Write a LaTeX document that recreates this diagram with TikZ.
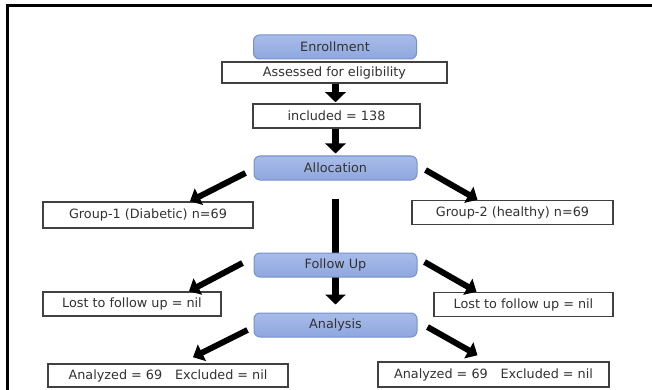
\documentclass[tikz,border=0pt]{standalone}
\usepackage{fontspec}
\setmainfont{DejaVu Sans}
\usepackage{tikz}
\usetikzlibrary{arrows.meta, positioning, backgrounds}
\usepackage{xcolor}
\definecolor{phaseblue}{RGB}{143,167,222}
\definecolor{phasetop}{RGB}{168,188,234}
\definecolor{phaseedge}{RGB}{118,145,205}
\definecolor{textgray}{RGB}{50,50,50}
\tikzset{
  basebox/.style={
    rectangle, align=center, inner sep=0pt, text=textgray,
    font=\fontsize{12.8}{14}\selectfont
  },
  flowbox/.style={basebox, draw=black!75, line width=1.5pt, fill=white, minimum height=24pt},
  phasebox/.style={basebox, rounded corners=6pt, draw=phaseedge, line width=1pt,
    top color=phasetop, bottom color=phaseblue, minimum width=163pt, minimum height=24pt},
  fatarrow/.style={-{Triangle[width=20pt,length=10pt]}, line width=7pt, black},
  slantarrow/.style={-{Triangle[width=18pt,length=10pt]}, line width=6pt, black},
  framerule/.style={line width=3pt, black}
}

\begin{document}
\begin{tikzpicture}[x=1pt,y=-1pt]
  \useasboundingbox (0,0) rectangle (652,390);
  \draw[framerule] (7,390) -- (7,6) -- (652,6);

  % phases
  \node[phasebox] (enrol) at (335,47) {Enrollment};
  \node[flowbox,minimum width=225pt,minimum height=21pt] (assess) at (334.5,72.5) {Assessed for eligibility};
  \node[flowbox,minimum width=167pt] (incl) at (336.5,116) {included = 138};
  \node[phasebox] (alloc) at (335.5,168) {Allocation};
  \node[flowbox,minimum width=210pt,minimum height=26pt] (grpA) at (148,215) {Group-1 (Diabetic) n=69};
  \node[flowbox,minimum width=201pt] (grpB) at (512.5,212.5) {Group-2 (healthy) n=69};
  \node[phasebox] (follow) at (335.5,265) {Follow Up};
  \node[flowbox,minimum width=178pt] (lostA) at (132,304) {Lost to follow up = nil};
  \node[flowbox,minimum width=179pt] (lostB) at (523.5,304.5) {Lost to follow up = nil};
  \node[phasebox] (anal) at (335.5,325) {Analysis};
  \node[flowbox,minimum width=240pt,minimum height=23pt] (resA) at (168,375.5) {Analyzed = 69\quad Excluded = nil};
  \node[flowbox,minimum width=231pt,minimum height=25pt] (resB) at (493.5,374.5) {Analyzed = 69\quad Excluded = nil};

  % arrows
  \draw[fatarrow,shorten >=1pt] (assess.south -| alloc) -- (incl.north -| alloc);
  \draw[fatarrow,shorten >=2pt] (incl.south -| alloc) -- (alloc.north);
  \begin{scope}[on background layer]
    \draw[fatarrow,shorten <=18pt,shorten >=8pt] (alloc.south) -- (anal.north);
  \end{scope}
  \draw[slantarrow] ([xshift=-8pt,yshift=-5pt]alloc.west) -- ([xshift=42pt]grpA.north);
  \draw[slantarrow] ([xshift=8pt,yshift=-2pt]alloc.east) -- ([xshift=-35pt]grpB.north);
  \draw[slantarrow] ([xshift=-11pt,yshift=2pt]follow.west) -- ([xshift=57pt]lostA.north);
  \draw[slantarrow] ([xshift=7pt,yshift=3pt]follow.east) -- ([xshift=-47pt]lostB.north);
  \draw[slantarrow] ([xshift=-6pt,yshift=-5pt]anal.west) -- ([xshift=25pt,yshift=6pt]resA.north);
  \draw[slantarrow] ([xshift=10pt,yshift=-2pt]anal.east) -- ([xshift=-16pt,yshift=6pt]resB.north);
\end{tikzpicture}
\end{document}
